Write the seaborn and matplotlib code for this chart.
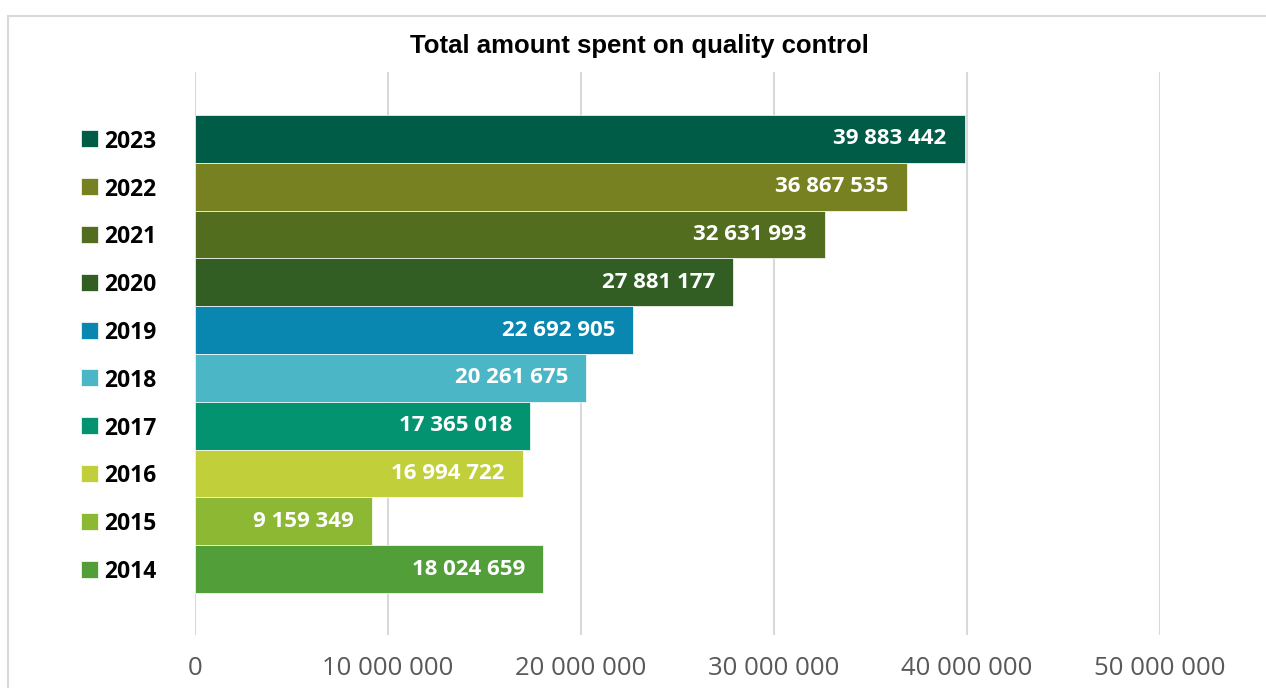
import matplotlib
matplotlib.use("Agg")
import matplotlib.pyplot as plt
import seaborn as sns
import pandas as pd
from matplotlib.patches import Rectangle
from matplotlib.transforms import blended_transform_factory
from matplotlib.ticker import FuncFormatter

years = ["2023", "2022", "2021", "2020", "2019", "2018", "2017", "2016", "2015", "2014"]
amounts = [39883442, 36867535, 32631993, 27881177, 22692905, 20261675, 17365018, 16994722, 9159349, 18024659]
colors = ["#005C47", "#788122", "#536D1F", "#325E23", "#0A87B0",
          "#4BB6C5", "#039371", "#C1CF3A", "#8DB834", "#529F39"]
title = "Total amount spent on quality control"
x_ticks = [0, 10000000, 20000000, 30000000, 40000000, 50000000]

df = pd.DataFrame({"year": years, "amount": amounts})
palette = dict(zip(years, colors))

sns.set_theme(style="white")
plt.rcParams["font.family"] = ["Open Sans", "DejaVu Sans"]

fig = plt.figure(figsize=(12.66, 6.88), dpi=100)
ax = fig.add_axes([195 / 1266, 1 - 635 / 688, (1160 - 195) / 1266, (635 - 72) / 688])

sns.barplot(data=df, x="amount", y="year", hue="year", palette=palette, order=years,
            orient="h", width=1.0, legend=False, ax=ax, edgecolor="white", linewidth=0.5,
            saturation=1)

ax.set_xlim(0, 50000000)
ax.set_ylim(len(years) - 0.5 + 0.88, -0.5 - 0.9)
ax.set_xticks(x_ticks)
ax.xaxis.set_major_formatter(FuncFormatter(lambda v, p: f"{int(v):,}".replace(",", " ")))
ax.grid(axis="x", color="#D9D9D9", linewidth=1.5)
ax.grid(axis="y", visible=False)
ax.set_axisbelow(True)
for s in ax.spines.values():
    s.set_visible(False)
ax.set_xlabel("")
ax.set_ylabel("")
ax.tick_params(axis="x", length=0, pad=15, labelsize=18.5, labelcolor="#595959")
ax.tick_params(axis="y", length=0, pad=28, labelsize=16.5)
for lbl in ax.get_yticklabels():
    lbl.set_fontweight("bold")
    lbl.set_color("black")

# legend-style square markers next to the year labels
trans = blended_transform_factory(ax.transAxes, ax.transData)
ax.scatter([-0.109] * len(years), years, marker="s", s=150, c=colors,
           transform=trans, clip_on=False, edgecolors="white", linewidths=0.5, zorder=5)

# value labels
for bar, val in zip(ax.patches, amounts):
    y = bar.get_y() + bar.get_height() / 2
    ax.annotate(f"{val:,}".replace(",", " "), xy=(bar.get_width(), y),
                xytext=(-13, 0), textcoords="offset points", ha="right", va="center",
                color="white", fontsize=16, fontweight="bold")

fig.text(0.505, 1 - 46 / 688, title, ha="center", va="center", fontsize=18.5,
         fontweight="bold", color="black", family=["Liberation Sans", "DejaVu Sans"])

fig.patches.append(Rectangle((8 / 1266, -0.1), 1.2, 1.088 - 8 / 688, transform=fig.transFigure,
                             fill=False, edgecolor="#D9D9D9", linewidth=1.5))

fig.savefig("out.png", dpi=100)
